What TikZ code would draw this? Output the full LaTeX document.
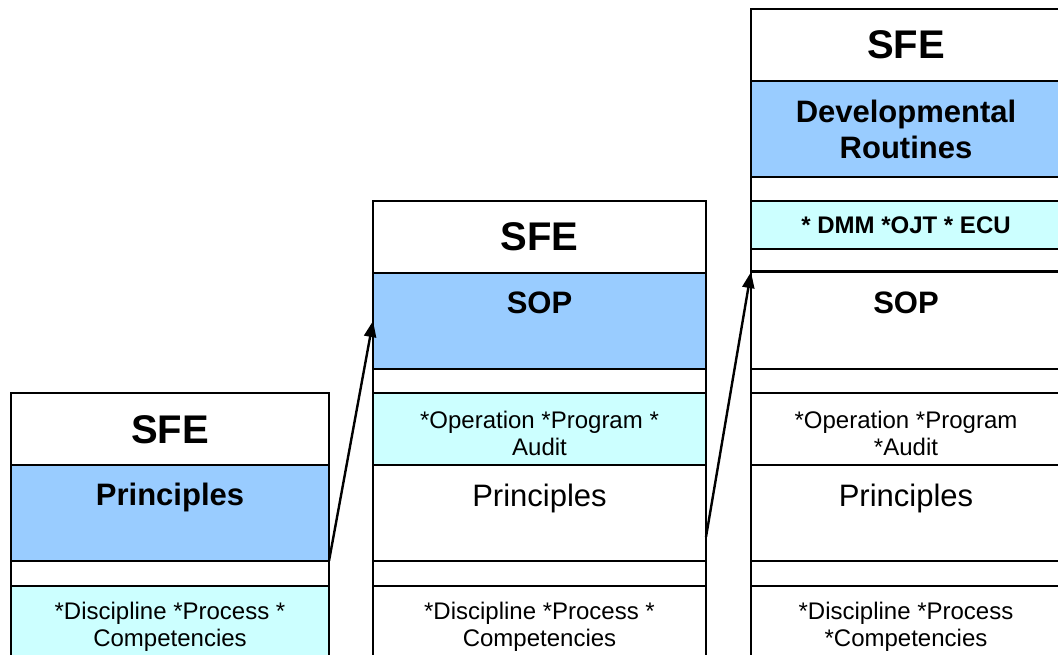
\documentclass[tikz,border=0pt]{standalone}
\usepackage{fontspec}
\setmainfont{Liberation Sans}
\usetikzlibrary{arrows.meta}
\definecolor{blu}{HTML}{99CCFF}
\definecolor{cyn}{HTML}{CCFFFF}
\newcommand{\bx}[6]{\node[box, fill=#6, minimum width={(#4-#2)*1pt}, minimum height={(#5-#3)*1pt}] (#1) at ({(#2+#4)/2},{(#3+#5)/2}) {};}
\begin{document}
\begin{tikzpicture}[x=1pt,y=-1pt,
  box/.style={draw=black, line width=1.5pt, inner sep=0pt, outer sep=0pt},
  big/.style={font=\fontsize{40}{46}\selectfont\bfseries, anchor=base, inner sep=0pt},
  head/.style={font=\fontsize{31}{36}\selectfont\bfseries, anchor=base, inner sep=0pt, align=center},
  plain/.style={font=\fontsize{31}{36}\selectfont, anchor=base, inner sep=0pt},
  small/.style={font=\fontsize{24}{27}\selectfont, inner sep=0pt, align=center},
  arr/.style={line width=2.4pt, -{Triangle[length=16pt,width=12pt]}}]
\useasboundingbox (0,0) rectangle (1058,655);
\clip (0,0) rectangle (1058,655);
% column 1
\bx{sfe1}{11}{393}{329}{465}{white}
\bx{pr1}{11}{465}{329}{561}{blu}
\bx{g1}{11}{561}{329}{586}{white}
\bx{di1}{11}{586}{329}{680}{cyn}
% column 2
\bx{sfe2}{373}{201}{706}{273}{white}
\bx{sop2}{373}{273}{706}{369}{blu}
\bx{g2a}{373}{369}{706}{393}{white}
\bx{op2}{373}{393}{706}{465}{cyn}
\bx{pr2}{373}{465}{706}{561}{white}
\bx{g2b}{373}{561}{706}{586}{white}
\bx{di2}{373}{586}{706}{680}{white}
% column 3
\bx{sfe3}{751}{9}{1062}{81}{white}
\bx{dev3}{751}{81}{1062}{177}{blu}
\bx{g3a}{751}{177}{1062}{201}{white}
\bx{dm3}{751}{201}{1062}{249}{cyn}
\bx{g3b}{751}{249}{1062}{272}{white}
\bx{sop3}{751}{272}{1062}{369}{white}
\bx{g3c}{751}{369}{1062}{393}{white}
\bx{op3}{751}{393}{1062}{465}{white}
\bx{pr3}{751}{465}{1062}{561}{white}
\bx{g3d}{751}{561}{1062}{586}{white}
\bx{di3}{751}{586}{1062}{680}{white}
\draw[line width=3pt] (sop3.north west) -- (sop3.north east);
% texts
\node[big] (t1) at (170,443) {SFE};
\node[head] (t2) at (170,505) {Principles};
\node[small] (t3) at (170,627) {*Discipline *Process *\\Competencies};
\node[big] (t4) at (539.5,251) {SFE};
\node[head] (t5) at (539.5,313) {SOP};
\node[small] (t6) at (539.5,433) {*Operation *Program *\\Audit};
\node[plain] (t7) at (539.5,506) {Principles};
\node[small] (t8) at (539.5,627) {*Discipline *Process *\\Competencies};
\node[big] (t9) at (906,59) {SFE};
\node[font=\fontsize{31}{36}\selectfont\bfseries, inner sep=0pt, align=center] (t10) at (906,129) {Developmental\\Routines};
\node[font=\fontsize{24}{27}\selectfont\bfseries, anchor=base, inner sep=0pt] (t11) at (906,233.5) {* DMM *OJT * ECU};
\node[head] (t12) at (906,313) {SOP};
\node[small] (t13) at (906,433) {*Operation *Program\\*Audit};
\node[plain] (t14) at (906,506) {Principles};
\node[small] (t15) at (906,627) {*Discipline *Process\\*Competencies};
% arrows
\coordinate (a2s) at ([yshift=-24pt]pr2.east);
\draw[arr] (pr1.south east) -- (sop2.west);
\draw[arr] (a2s) -- (sop3.north west);
\end{tikzpicture}
\end{document}
